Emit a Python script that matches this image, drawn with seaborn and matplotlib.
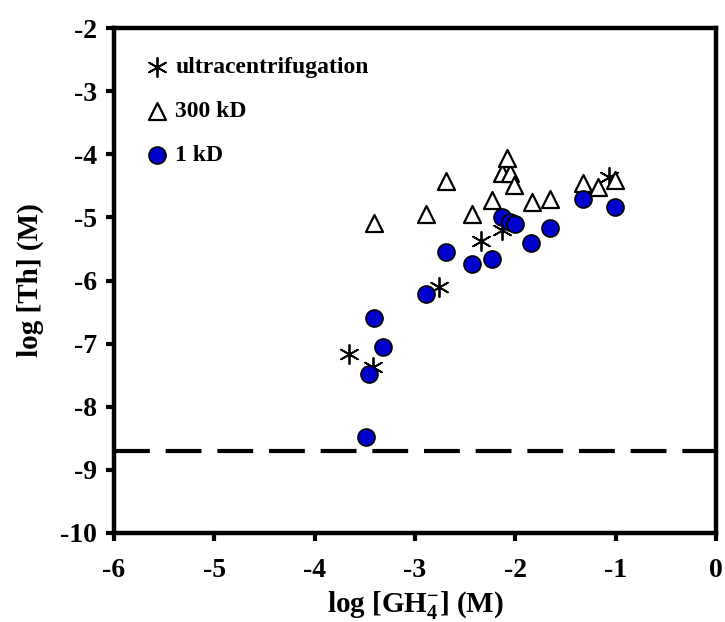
import matplotlib
matplotlib.use("Agg")
import matplotlib.pyplot as plt
import seaborn as sns
import pandas as pd

# ---- data ----
uc_x = [-3.66, -3.42, -2.76, -2.34, -2.13, -1.07]
uc_y = [-7.16, -7.37, -6.11, -5.37, -5.20, -4.36]

kd300_x = [-3.41, -2.89, -2.69, -2.43, -2.23, -2.13, -2.05, -2.08, -2.01, -1.83, -1.65, -1.33, -1.18, -1.01]
kd300_y = [-5.09, -4.94, -4.42, -4.94, -4.72, -4.30, -4.30, -4.06, -4.49, -4.75, -4.71, -4.46, -4.52, -4.41]

kd1_x = [-3.49, -3.46, -3.32, -3.41, -2.89, -2.69, -2.43, -2.23, -2.13, -2.05, -2.00, -1.84, -1.65, -1.33, -1.01]
kd1_y = [-8.48, -7.48, -7.05, -6.60, -6.21, -5.55, -5.74, -5.66, -4.99, -5.08, -5.10, -5.41, -5.17, -4.71, -4.84]

detection_limit = -8.7

labels = ["ultracentrifugation", "300 kD", "1 kD"]
x_ticks = [-6, -5, -4, -3, -2, -1, 0]
y_ticks = [-10, -9, -8, -7, -6, -5, -4, -3, -2]

sns.set_theme(style="white")
plt.rcParams["font.family"] = ["Liberation Serif", "DejaVu Serif"]
plt.rcParams["font.weight"] = "bold"
plt.rcParams["text.color"] = "black"
plt.rcParams["axes.labelcolor"] = "black"
plt.rcParams["xtick.color"] = "black"
plt.rcParams["ytick.color"] = "black"
plt.rcParams["axes.unicode_minus"] = False
plt.rcParams["mathtext.fontset"] = "custom"
plt.rcParams["mathtext.rm"] = "Liberation Serif:bold"
plt.rcParams["mathtext.bf"] = "Liberation Serif:bold"
plt.rcParams["mathtext.it"] = "Liberation Serif:bold"
plt.rcParams["mathtext.default"] = "bf"

fig = plt.figure(figsize=(7.25, 6.22), dpi=100)
ax = fig.add_axes([114 / 725, 1 - 533 / 622, (716 - 114) / 725, (533 - 28) / 622])

df_uc = pd.DataFrame({"x": uc_x, "y": uc_y})
df_300 = pd.DataFrame({"x": kd300_x, "y": kd300_y})
df_1 = pd.DataFrame({"x": kd1_x, "y": kd1_y})

sns.scatterplot(data=df_uc, x="x", y="y", ax=ax, marker=(6, 2, 0), s=190,
                color="black", linewidth=1.3, label=labels[0], zorder=3)
sns.scatterplot(data=df_300, x="x", y="y", ax=ax, marker="^", s=150,
                facecolor="white", edgecolor="black", linewidth=1.6, label=labels[1], zorder=4)
sns.scatterplot(data=df_1, x="x", y="y", ax=ax, marker="o", s=150,
                facecolor="#0000CC", edgecolor="black", linewidth=1.2, label=labels[2], zorder=5)

ax.axhline(detection_limit, color="black", lw=3, dashes=(8.6, 3.8), zorder=2)

ax.set_xlim(-6, 0)
ax.set_ylim(-10, -2)
ax.set_xticks(x_ticks)
ax.set_yticks(y_ticks)
ax.set_xticklabels([str(t) for t in x_ticks], fontsize=20, fontweight="bold")
ax.set_yticklabels([str(t) for t in y_ticks], fontsize=20, fontweight="bold")
ax.tick_params(axis="both", direction="out", length=6, width=3, colors="black",
               bottom=True, left=True, top=False, right=False)
ax.tick_params(axis="x", pad=12)
ax.tick_params(axis="y", pad=6)
for sp in ax.spines.values():
    sp.set_linewidth(3.2)
    sp.set_color("black")

ax.set_xlabel(r"log [GH$_4^{-}$] (M)", fontsize=21, fontweight="bold", labelpad=4)
ax.set_ylabel("log [Th] (M)", fontsize=21, fontweight="bold", labelpad=12)

leg = ax.legend(loc="upper left", frameon=False, handletextpad=0.2,
                labelspacing=0.95, borderaxespad=0.8, handlelength=1.2,
                prop={"weight": "bold", "size": 17})
for t in leg.get_texts():
    t.set_color("black")

fig.savefig("out.png", dpi=100)
